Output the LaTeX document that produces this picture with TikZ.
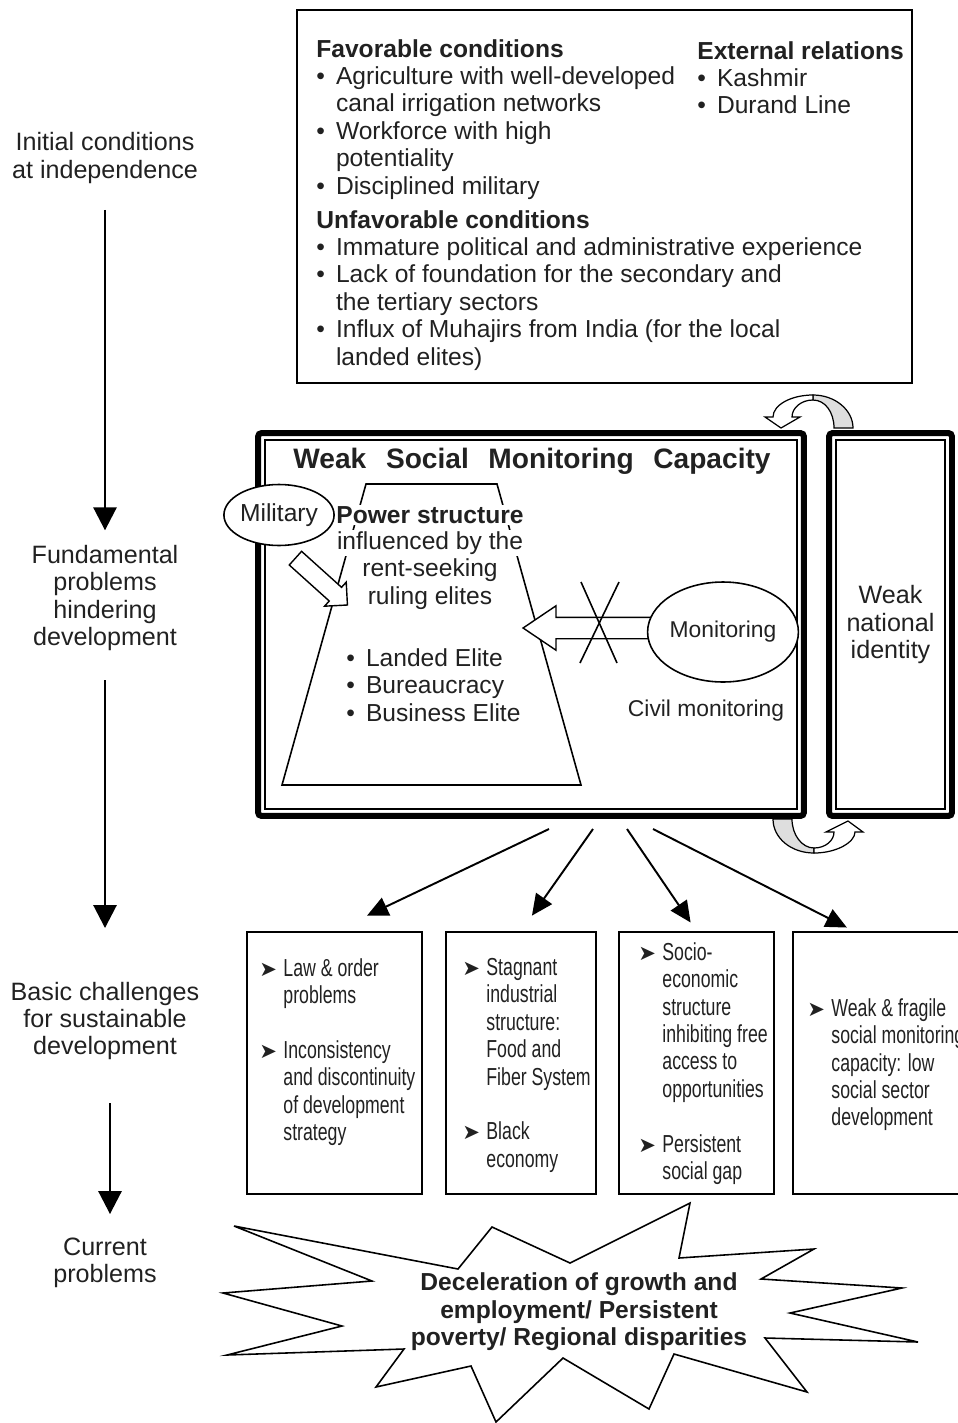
\documentclass[tikz,border=0pt]{standalone}
\usepackage{fontspec}
\setmainfont{Liberation Sans}
\newfontfamily\narrowfont[FakeStretch=0.72]{Liberation Sans}
\newfontfamily\symfont{DejaVu Sans}
\usetikzlibrary{arrows.meta,shapes.geometric,shapes.arrows,positioning}
\definecolor{ink}{gray}{0.13}
\definecolor{ribbon}{gray}{0.87}
\newcommand{\bul}{\makebox[0.8em][l]{\textbullet}}
\newcommand{\ind}{\hspace*{0.8em}}
\newcommand{\arr}{\makebox[13.7pt][l]{\symfont\fontsize{12}{12}\selectfont ➤}}
\newcommand{\ain}{\hspace*{13.7pt}}
\tikzset{
  txt/.style={inner sep=0pt, align=left, text=ink, font=\fontsize{14}{15.6}\selectfont},
  lbl/.style={inner sep=0pt, align=center, text=ink, font=\fontsize{14.3}{15.6}\selectfont},
  nar/.style={inner sep=0pt, align=left, text=ink, font=\narrowfont\fontsize{14}{15.6}\selectfont},
  pwl/.style={fill=white, inner sep=1pt, text=ink, font=\fontsize{14}{15.6}\selectfont},
  box/.style={draw, rectangle, line width=1pt},
  frame/.style={draw, rectangle, line width=3.4pt, rounded corners=2pt},
  inframe/.style={line width=0.8pt},
  blob/.style={ellipse, draw, fill=white, line width=0.9pt, inner sep=0pt, text=ink},
  holarrow/.style={single arrow, draw, fill=white, line width=0.8pt, inner xsep=0pt},
  ribline/.style={line width=0.7pt},
  flow/.style={line width=1.6pt, -{Triangle[width=13pt,length=13pt]}},
  conn/.style={line width=1.1pt, -{Triangle[width=11pt,length=12pt]}},
  brst/.style={align=center, inner sep=0pt, text=ink, font=\fontsize{14}{15.6}\selectfont\bfseries}
}
\begin{document}
\begin{tikzpicture}[x=0.02cm, y=-0.02cm]
\useasboundingbox (0,0) rectangle (957,1423);

% stages on the left
\node[lbl] (init) at (105,158) {Initial conditions\\at independence};
\node[lbl] (fund) at (105,598) {Fundamental\\problems\\hindering\\development};
\node[lbl] (basic) at (105,1021) {Basic challenges\\for sustainable\\development};
\node[lbl] (cur) at (105,1263) {Current\\problems};
\draw[flow, shorten <=0.52cm, shorten >=0.29cm] (init) -- (fund);
\draw[flow, shorten <=0.58cm, shorten >=1.07cm] (fund) -- (basic);
\draw[flow, shorten <=0.86cm, shorten >=0.47cm] ([xshift=0.1cm]basic.south) -- ([xshift=0.1cm]cur.north);

% initial conditions
\node[box, minimum width=12.3cm, minimum height=7.46cm] (inicond) at (604.5,196.5) {};
\node[txt, anchor=north west] (fav) at (316,39) {\textbf{Favorable conditions}\\
  \bul Agriculture with well-developed\\
  \ind canal irrigation networks\\
  \bul Workforce with high\\
  \ind potentiality\\
  \bul Disciplined military\\[3.7pt]
  \textbf{Unfavorable conditions}\\
  \bul Immature political and administrative experience\\
  \bul Lack of foundation for the secondary and\\
  \ind the tertiary sectors\\
  \bul Influx of Muhajirs from India (for the local\\
  \ind landed elites)};
\node[txt, anchor=north west] (ext) at (697,41) {\textbf{External relations}\\
  \bul Kashmir\\
  \bul Durand Line};

% curved arrows between the frames
\filldraw[ribline, fill=ribbon] (853,428) .. controls (853,410) and (835,395) .. (813,395)
  -- (813,400) .. controls (825,400) and (834,412) .. (834,428) -- cycle;
\filldraw[ribline, fill=white] (813,395) .. controls (791,395) and (773,405) .. (773,417)
  -- (765,417) -- (781,428) -- (800,417) -- (792,417)
  .. controls (792,408) and (801,400) .. (813,400) -- cycle;
\filldraw[ribline, fill=ribbon] (773,819) .. controls (773,838) and (791,853) .. (814,853)
  -- (814,848) .. controls (802,848) and (792,835) .. (792,819) -- cycle;
\filldraw[ribline, fill=white] (814,853) .. controls (837,853) and (855,842) .. (855,832)
  -- (863,832) -- (848,821) -- (826,832) -- (834,832)
  .. controls (834,841) and (825,848) .. (814,848) -- cycle;

% weak social monitoring capacity
\node[frame, minimum width=10.92cm, minimum height=7.66cm] (wsmc) at (531,624.5) {};
\draw[inframe] ([shift={(10,10)}]wsmc.north west) rectangle ([shift={(-10,-10)}]wsmc.south east);
\node[frame, lbl, minimum width=2.46cm, minimum height=7.66cm] (wni) at (890.5,624.5) {Weak\\national\\identity};
\draw[inframe] ([shift={(10,10)}]wni.north west) rectangle ([shift={(-10,-10)}]wni.south east);
\node[text=ink, font=\fontsize{16}{18}\selectfont\bfseries] (title) at (532,461)
  {Weak\hspace{0.7em}Social\hspace{0.7em}Monitoring\hspace{0.7em}Capacity};

\draw[line width=0.9pt] (366,484) -- (497,484) -- (581,785) -- (282,785) -- cycle;
\node[pwl, font=\fontsize{14}{15.6}\selectfont\bfseries] (ps1) at (430,515) {Power structure};
\node[pwl] (ps2) at (430,543) {influenced by the};
\node[pwl] (ps3) at (430,570) {rent-seeking};
\node[pwl] (ps4) at (430,598) {ruling elites};
\node[txt, anchor=west] (elites) at (346,685) {\bul Landed Elite\\ \bul Bureaucracy\\ \bul Business Elite};

\node[holarrow, minimum height=1.4cm, inner ysep=0.17cm, single arrow head extend=0.14cm, rotate=-42] (milarr) at (318,578.5) {};
\node[blob, minimum width=2cm, minimum height=1.22cm, font=\fontsize{14}{15.6}\selectfont] (mil) at (279,515) {Military};

\node[holarrow, minimum height=2.58cm, inner ysep=0.2cm, single arrow head extend=0.23cm, single arrow tip angle=68, rotate=180] (monarr) at (595.5,628) {};
\node[blob, minimum width=2.74cm, minimum height=2cm, font=\fontsize{13}{15.6}\selectfont] (mon) at (723,632) {Monitoring};
\draw[line width=0.9pt] (581,582) -- (617,663);
\draw[line width=0.9pt] (619,582) -- (580,663);
\node[txt, font=\fontsize{13}{15.6}\selectfont] (civ) at (706,711) {Civil monitoring};

% basic challenges
\node[box, minimum width=3.5cm, minimum height=5.24cm] (b1) at (334.5,1063) {};
\node[box, minimum width=3.0cm, minimum height=5.24cm] (b2) at (521,1063) {};
\node[box, minimum width=3.1cm, minimum height=5.24cm] (b3) at (696.5,1063) {};
\node[box, minimum width=3.64cm, minimum height=5.24cm] (b4) at (884,1063) {};
\node[nar, anchor=north west] (t1) at (259,958) {\arr Law \& order\\ \ain problems\\[15.6pt]
  \arr Inconsistency\\ \ain and discontinuity\\ \ain of development\\ \ain strategy};
\node[nar, anchor=north west] (t2) at (462,958) {\arr Stagnant\\ \ain industrial\\ \ain structure:\\
  \ain Food and\\ \ain Fiber System\\[15.6pt] \arr Black\\ \ain economy};
\node[nar, anchor=north west] (t3) at (638,942) {\arr Socio-\\ \ain economic\\ \ain structure\\
  \ain inhibiting free\\ \ain access to\\ \ain opportunities\\[15.6pt] \arr Persistent\\ \ain social gap};
\node[nar, anchor=north west] (t4) at (807,998) {\arr Weak \& fragile\\ \ain social monitoring\\
  \ain capacity: low\\ \ain social sector\\ \ain development};

\coordinate (f1) at (549,829);
\coordinate (f2) at (593,829);
\coordinate (f3) at (627,829);
\coordinate (f4) at (653,829);
\foreach \i/\sh in {1/0.72cm,2/0.38cm,3/0.21cm} {
  \draw[conn, shorten >=\sh] (f\i) -- (b\i.north);
}
\draw[conn, shorten >=0.16cm] (f4) -- ([xshift=-0.6cm]b4.north);

% current problems
\draw[line width=0.9pt, fill=white] (234,1226) -- (458,1269) -- (492,1227) -- (570,1263)
  -- (690,1203) -- (679,1258) -- (814,1249) -- (761,1279) -- (902,1288) -- (790,1313)
  -- (918,1342) -- (765,1338) -- (807,1392) -- (674,1354) -- (649,1409) -- (563,1358)
  -- (496,1422) -- (471,1366) -- (376,1387) -- (404,1349) -- (227,1355) -- (342,1326)
  -- (223,1293) -- (372,1281) -- cycle;
\node[brst] (dec) at (579,1312) {Deceleration of growth and\\employment/ Persistent\\poverty/ Regional disparities};
\end{tikzpicture}
\end{document}
